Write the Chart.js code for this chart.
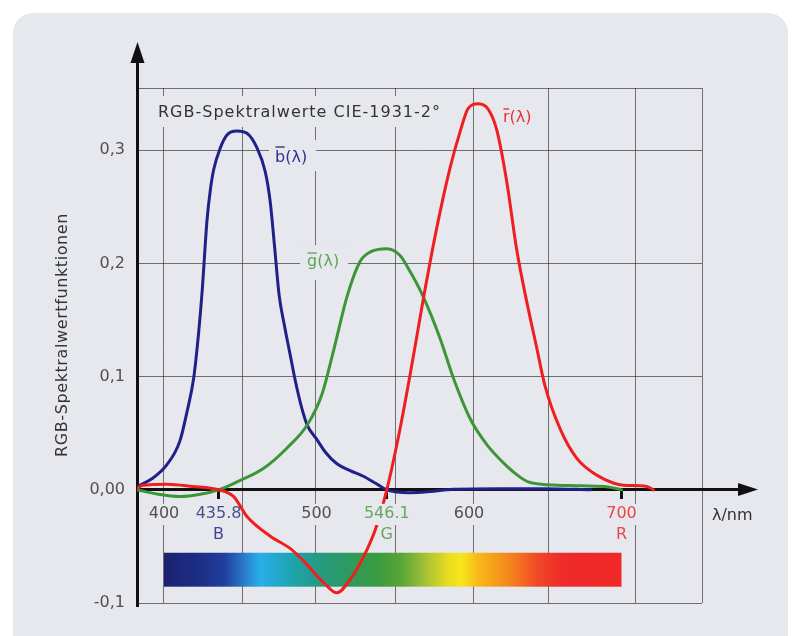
<!DOCTYPE html>
<html lang="de">
<head>
<meta charset="UTF-8">
<title>RGB-Spektralwerte CIE-1931-2°</title>
<script src="https://cdn.jsdelivr.net/npm/chart.js"></script>
<style>
    html, body { margin: 0; padding: 0; background: #fff; }
    body { width: 797px; height: 636px; position: relative; overflow: hidden; }
    .panel { position: absolute; left: 13px; top: 13px; width: 775px; height: 660px; border-radius: 20px; background: #e7e8ed; }
    canvas { position: absolute; left: 0; top: 0; }
</style>
</head>
<body>
<div class="panel"></div>
<canvas id="chart" width="797" height="636"></canvas>
<script>
// Werte (Wellenlaenge in nm, Spektralwert)
const redNm  = [382.3, 386, 402, 418.6, 435.8, 445.7, 454.4, 469.7, 482.9, 491.6, 504.7, 513.4, 522.2, 530.9, 538.6, 546.1, 554.8, 561.3, 567.9, 570.5, 578.8, 587.5, 594.1, 599.5, 606.1, 612.7, 618.2, 624.8, 631.3, 637.9, 644.5, 649.8, 659.7, 670.6, 683.7, 694.6, 701.2, 716.5, 721];
const redVal = [0.001, 0.004, 0.005, 0.003, 0, -0.006, -0.0236, -0.041, -0.052, -0.063, -0.082, -0.091, -0.079, -0.059, -0.035, 0, 0.054, 0.101, 0.152, 0.172, 0.231, 0.284, 0.316, 0.337, 0.341, 0.336, 0.318, 0.272, 0.212, 0.166, 0.125, 0.092, 0.054, 0.028, 0.013, 0.006, 0.004, 0.003, 0];

const greenNm  = [382.3, 396.4, 410.6, 423.8, 435.8, 447.9, 465.4, 480.7, 493.8, 503.5, 511.2, 520.3, 528.5, 535.1, 546.1, 554.8, 561.3, 569.5, 581, 589.7, 600.7, 611.7, 624.8, 633.7, 638.8, 651.9, 673.8, 691.3, 700];
const greenVal = [0, -0.004, -0.006, -0.004, 0, 0.007, 0.019, 0.037, 0.057, 0.084, 0.123, 0.172, 0.2015, 0.210, 0.213, 0.207, 0.193, 0.172, 0.134, 0.099, 0.063, 0.040, 0.021, 0.011, 0.007, 0.0045, 0.0035, 0.0025, 0];

const blueNm  = [382.3, 392.3, 401.8, 410.4, 415.1, 419.5, 422.8, 425, 428.2, 430.4, 432.6, 436.9, 441.3, 447.9, 454.4, 461, 466.4, 469.7, 472.5, 475.5, 479, 482.5, 486, 490, 494, 500, 506, 513.4, 522, 530.7, 538.5, 546.1, 561.3, 574.4, 589.5, 620, 650, 680];
const blueVal = [0.003, 0.010, 0.022, 0.043, 0.069, 0.099, 0.140, 0.175, 0.238, 0.265, 0.283, 0.302, 0.3135, 0.317, 0.315, 0.302, 0.281, 0.254, 0.215, 0.172, 0.145, 0.121, 0.097, 0.074, 0.057, 0.045, 0.033, 0.023, 0.017, 0.012, 0.006, 0, -0.0025, -0.0015, 0.0005, 0.001, 0.001, 0];

const tickNm   = [400, 435.8, 500, 546.1, 600, 700];
const tickText = ['400', '435.8', '500', '546.1', '600', '700'];
const primNm   = [435.8, 546.1, 700];
const primText = ['B', 'G', 'R'];
const gridNm   = [400, 451.5, 499.5, 552, 603, 652, 709.5];

const X_MIN = 382.3, X_MAX = 752.8, Y_MIN = -0.1, Y_MAX = 0.355;
const PANEL = '#e7e8ed';
const GRID = 'rgba(60,60,60,0.7)';
const RED = '#ef1f1f', GREEN = '#3c9638', BLUE = '#1e2288';
const tickColors = ['#505050', '#4a5088', '#505050', '#64a85a', '#505050', '#e8464b'];
const primColors = ['#3d4690', '#64a85a', '#e8464b'];

// Spektralband unter der Achse
const specFrom = 400, specTo = 700, specTop = -0.0556, specBottom = -0.0856;
const spectrumStops = [
    [400, '#1b2270'], [425, '#1d2f88'], [440, '#2040a0'], [452, '#2a78c8'], [463, '#28b0e8'],
    [474, '#22a8cc'], [486, '#1fa3a8'], [500, '#259a86'], [520, '#2c9a62'], [540, '#3a9a40'],
    [556, '#5aa638'], [572, '#a8c235'], [586, '#e8dc20'], [595, '#f7e61c'], [606, '#f8b81a'],
    [626, '#f5881c'], [645, '#f04826'], [662, '#ef2a2a'], [700, '#f02828']
];

const curveLabels = [
    { txt: 'b(λ)', nm: 472.8, v: 0.2896, color: '#2e3192', bar: 15, pad: [6, 9, 22, 9] },
    { txt: 'g(λ)', nm: 493.8, v: 0.1977, color: '#5da653', bar: 13, pad: [7, 9, 21, 14] },
    { txt: 'r(λ)', nm: 622.3, v: 0.325,  color: '#e8323a', bar: 13, pad: [0, 0, 0, 0] }
];
const TITLE = 'RGB-Spektralwerte CIE-1931-2°';

function pts(nm, val) {
    return nm.map((v, i) => ({ x: v, y: val[i] }));
}

const FONT = '"DejaVu Sans", sans-serif';
Chart.defaults.font.family = FONT;
Chart.defaults.font.size = 16;

const decor = {
    id: 'decor',
    beforeDatasetsDraw(chart) {
        const { ctx, scales: { x, y } } = chart;
        ctx.save();
        const x0 = x.getPixelForValue(specFrom), x1 = x.getPixelForValue(specTo);
        const y0 = y.getPixelForValue(specTop), y1 = y.getPixelForValue(specBottom);
        const g = ctx.createLinearGradient(x0, 0, x1, 0);
        spectrumStops.forEach(([nm, c]) => g.addColorStop((nm - specFrom) / (specTo - specFrom), c));
        ctx.fillStyle = g;
        ctx.fillRect(x0, y0, x1 - x0, y1 - y0);

        // Hintergrund hinter Texten (verdeckt Gitterlinien)
        ctx.fillStyle = PANEL;
        ctx.font = '16px ' + FONT;
        ctx.letterSpacing = '1px';
        const tw = ctx.measureText(TITLE).width;
        ctx.fillRect(154, 96, tw + 8, 31);
        ctx.letterSpacing = '0px';
        curveLabels.forEach(l => {
            const lx = x.getPixelForValue(l.nm), ly = y.getPixelForValue(l.v);
            const w = ctx.measureText(l.txt).width;
            ctx.fillRect(lx - l.pad[0], ly - l.pad[2], w + l.pad[0] + l.pad[1], l.pad[2] + l.pad[3]);
        });
        ctx.restore();
    },
    afterDraw(chart) {
        const { ctx, chartArea: a, scales: { x, y } } = chart;
        const ax = Math.round(a.left - 1.5) + 1.5;
        const ay = Math.round(y.getPixelForValue(0) - 1.5) + 1.5;
        ctx.save();
        ctx.strokeStyle = '#111';
        ctx.fillStyle = '#111';
        ctx.lineWidth = 3;
        ctx.beginPath();
        ctx.moveTo(ax, a.top + 1); ctx.lineTo(ax, 58);
        ctx.moveTo(ax, a.bottom - 1); ctx.lineTo(ax, a.bottom + 4);
        ctx.moveTo(a.right - 1, ay); ctx.lineTo(744, ay);
        ctx.stroke();
        ctx.beginPath();
        ctx.moveTo(ax, 42); ctx.lineTo(ax - 7, 63); ctx.lineTo(ax + 7, 63); ctx.closePath();
        ctx.fill();
        ctx.beginPath();
        ctx.moveTo(758, ay); ctx.lineTo(738, ay - 6.5); ctx.lineTo(738, ay + 6.5); ctx.closePath();
        ctx.fill();

        ctx.font = '16px ' + FONT;
        ctx.fillStyle = '#333';
        ctx.textBaseline = 'alphabetic';
        ctx.letterSpacing = '1px';
        ctx.fillText(TITLE, 158, 117);
        ctx.letterSpacing = '0px';

        ctx.textBaseline = 'middle';
        ctx.fillText('λ/nm', 712, 516);

        ctx.save();
        ctx.translate(63, 335);
        ctx.rotate(-Math.PI / 2);
        ctx.textAlign = 'center';
        ctx.letterSpacing = '0.6px';
        ctx.fillText('RGB-Spektralwertfunktionen', 0, 0);
        ctx.restore();

        ctx.textBaseline = 'alphabetic';
        curveLabels.forEach(l => {
            const lx = x.getPixelForValue(l.nm), ly = y.getPixelForValue(l.v);
            ctx.fillStyle = l.color;
            ctx.strokeStyle = l.color;
            ctx.fillText(l.txt, lx, ly);
            const w = ctx.measureText(l.txt[0]).width;
            ctx.lineWidth = 1.4;
            ctx.beginPath();
            ctx.moveTo(lx + 0.5, ly - l.bar);
            ctx.lineTo(lx + w - 0.5, ly - l.bar);
            ctx.stroke();
        });
        ctx.restore();
    }
};

const lineStyle = { borderWidth: 3, pointRadius: 0, fill: false, cubicInterpolationMode: 'monotone', borderJoinStyle: 'round', borderCapStyle: 'round' };

new Chart(document.getElementById('chart'), {
    type: 'line',
    data: {
        datasets: [
            Object.assign({ label: 'r', data: pts(redNm, redVal), borderColor: RED }, lineStyle),
            Object.assign({ label: 'g', data: pts(greenNm, greenVal), borderColor: GREEN }, lineStyle),
            Object.assign({ label: 'b', data: pts(blueNm, blueVal), borderColor: BLUE }, lineStyle)
        ]
    },
    options: {
        responsive: false,
        devicePixelRatio: 1,
        animation: false,
        layout: { padding: { left: 55, top: 88, right: 95, bottom: 33 } },
        plugins: { legend: { display: false }, tooltip: { enabled: false } },
        scales: {
            x: {
                type: 'linear', min: X_MIN, max: X_MAX,
                afterBuildTicks: s => { s.ticks = gridNm.concat([X_MAX]).map(v => ({ value: v })); },
                ticks: { display: false, autoSkip: false },
                grid: { color: GRID, lineWidth: 1, drawTicks: false },
                border: { display: false }
            },
            xl: {
                type: 'linear', axis: 'x', min: X_MIN, max: X_MAX, position: { y: 0 },
                afterBuildTicks: s => { s.ticks = tickNm.map(v => ({ value: v })); },
                grid: {
                    drawOnChartArea: false, drawTicks: true, tickLength: 8, tickWidth: 3,
                    tickColor: c => primNm.includes(tickNm[c.index]) ? '#111' : 'rgba(0,0,0,0)'
                },
                border: { display: true, color: '#111', width: 3 },
                ticks: {
                    z: 1, autoSkip: false, maxRotation: 0, padding: 6,
                    font: { size: 16, lineHeight: 1.2 },
                    color: c => tickColors[c.index],
                    callback: (v, i) => tickText[i],
                    showLabelBackdrop: true,
                    backdropColor: c => c.index === 1 ? 'rgba(0,0,0,0)' : PANEL,
                    backdropPadding: { top: 0, bottom: 2, left: 2, right: 2 }
                }
            },
            xb: {
                type: 'linear', axis: 'x', min: X_MIN, max: X_MAX, position: { y: 0 },
                afterBuildTicks: s => { s.ticks = primNm.map(v => ({ value: v })); },
                grid: { drawOnChartArea: false, drawTicks: false },
                border: { display: false },
                ticks: {
                    z: 1, autoSkip: false, maxRotation: 0, padding: 35,
                    font: { size: 16, lineHeight: 1.2 },
                    color: c => primColors[c.index],
                    callback: (v, i) => primText[i],
                    showLabelBackdrop: true, backdropColor: PANEL, backdropPadding: 1
                }
            },
            y: {
                type: 'linear', min: Y_MIN, max: Y_MAX,
                afterFit: s => { s.width = 82; },
                ticks: {
                    stepSize: 0.1, padding: 12, color: '#505050',
                    callback: v => Math.abs(v) < 1e-9 ? '0,00' : (v > 0.33 ? '' : v.toFixed(1).replace('.', ','))
                },
                grid: { color: GRID, lineWidth: 1, drawTicks: false },
                border: { display: true, color: '#111', width: 3 }
            }
        }
    },
    plugins: [decor]
});
</script>
</body>
</html>
